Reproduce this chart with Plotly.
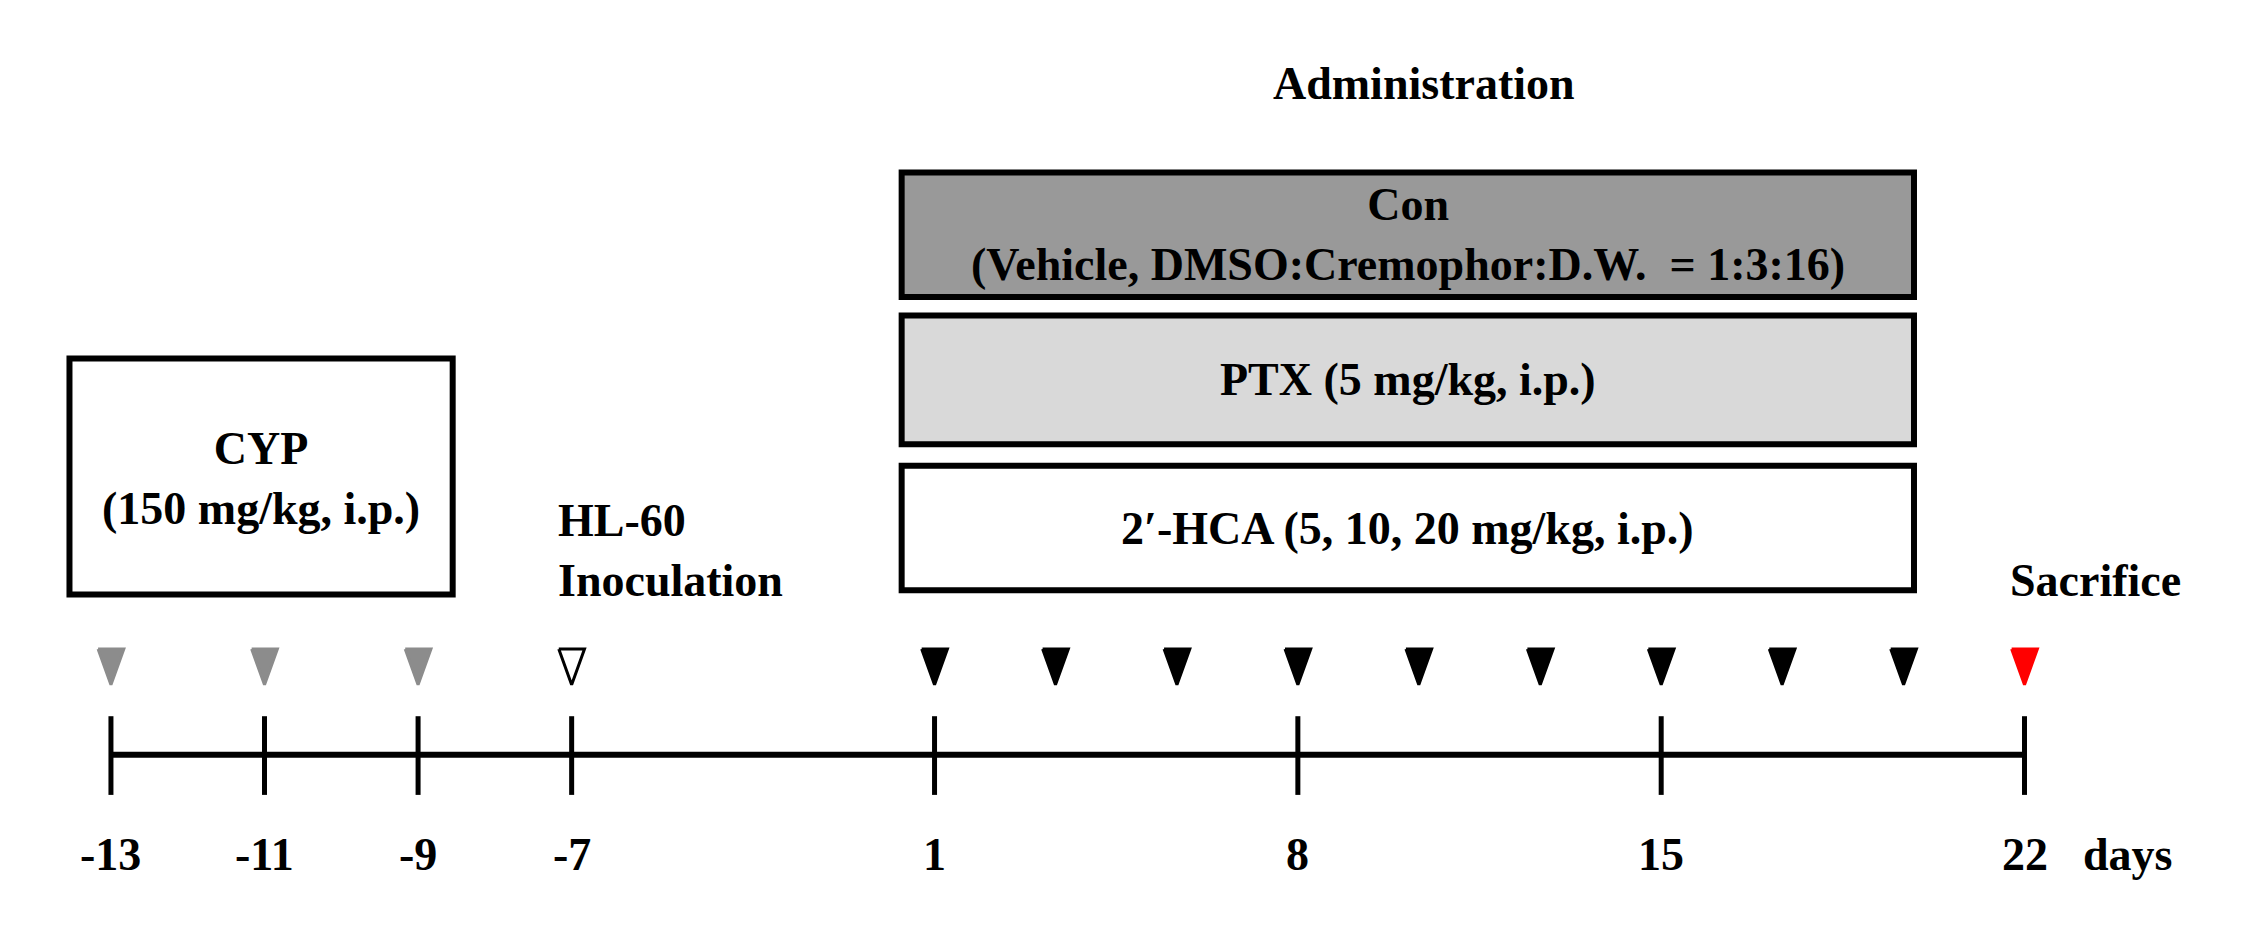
import plotly.graph_objects as go

tick_days = [-13, -11, -9, -7, 1, 8, 15, 22]
tick_labels = ["-13", "-11", "-9", "-7", "1", "8", "15", "22"]
cyp_days = [-13, -11, -9]
inoc_days = [-7]
admin_days = [1, 3.33, 5.67, 8, 10.33, 12.67, 15, 17.33, 19.67]
sac_days = [22]
groups = ["Con<br>(Vehicle, DMSO:Cremophor:D.W.  = 1:3:16)", "PTX (5 mg/kg, i.p.)",
          "2\u2032-HCA (5, 10, 20 mg/kg, i.p.)"]
group_fill = ["#999999", "#d9d9d9", "#ffffff"]

DX, DY = -5, -5

def X(d):
    # piecewise scale (pre-inoculation period drawn wider)
    if d <= -7:
        return 77 + DX + (d + 13) * 53.7
    return 653 + DX + (d - 1) * 36.3

F = dict(family="Liberation Serif", size=46, color="black")
fig = go.Figure()
shapes = []
shapes.append(dict(type="line", x0=X(-13), x1=X(22), y0=527+DY, y1=527+DY, line=dict(color="black", width=6)))
for d in tick_days:
    shapes.append(dict(type="line", x0=X(d), x1=X(d), y0=500+DY, y1=555+DY, line=dict(color="black", width=5)))
shapes.append(dict(type="rect", x0=48+DX, x1=316+DX, y0=250+DY, y1=415+DY, line=dict(color="black", width=6), fillcolor="white"))
box_y = [(120, 207), (220, 310), (325, 412)]
ann = []
for (y0, y1), fc, t in zip(box_y, group_fill, groups):
    shapes.append(dict(type="rect", x0=630+DX, x1=1338+DX, y0=y0+DY, y1=y1+DY, line=dict(color="black", width=6), fillcolor=fc, layer="below"))
    ann.append(dict(x=984+DX, y=(y0+y1)/2+DY, text="<b>%s</b>" % t, showarrow=False, font=F))

def tri(days, fill, line):
    for d in days:
        x = X(d)
        fig.add_trace(go.Scatter(x=[x-9, x+9, x, x-9], y=[453+DY, 453+DY, 478+DY, 453+DY], mode="lines",
            fill="toself", fillcolor=fill, line=dict(color=line, width=3),
            hoverinfo="skip", showlegend=False))
tri(cyp_days, "#8c8c8c", "#8c8c8c")
tri(inoc_days, "white", "black")
tri(admin_days, "black", "black")
tri(sac_days, "#ff0000", "#ff0000")

for d, t in zip(tick_days, tick_labels):
    ann.append(dict(x=X(d), y=597+DY, text="<b>%s</b>" % t, showarrow=False, font=F))
ann += [
    dict(x=1487+DX, y=597+DY, text="<b>days</b>", showarrow=False, font=F),
    dict(x=182+DX, y=334+DY, text="<b>CYP<br>(150 mg/kg, i.p.)</b>", showarrow=False, font=F),
    dict(x=388+DX, y=384+DY, text="<b>HL-60<br>Inoculation</b>", showarrow=False, font=F, xanchor="left", align="left"),
    dict(x=1465+DX, y=405+DY, text="<b>Sacrifice</b>", showarrow=False, font=F),
    dict(x=995+DX, y=58+DY, text="<b>Administration</b>", showarrow=False, font=F),
]
fig.update_layout(width=2242, height=950, margin=dict(l=0, r=0, t=0, b=0),
    plot_bgcolor="white", paper_bgcolor="white", shapes=shapes, annotations=ann,
    xaxis=dict(range=[0, 1568], visible=False), yaxis=dict(range=[664, 0], visible=False))
fig.write_html("out.html")
